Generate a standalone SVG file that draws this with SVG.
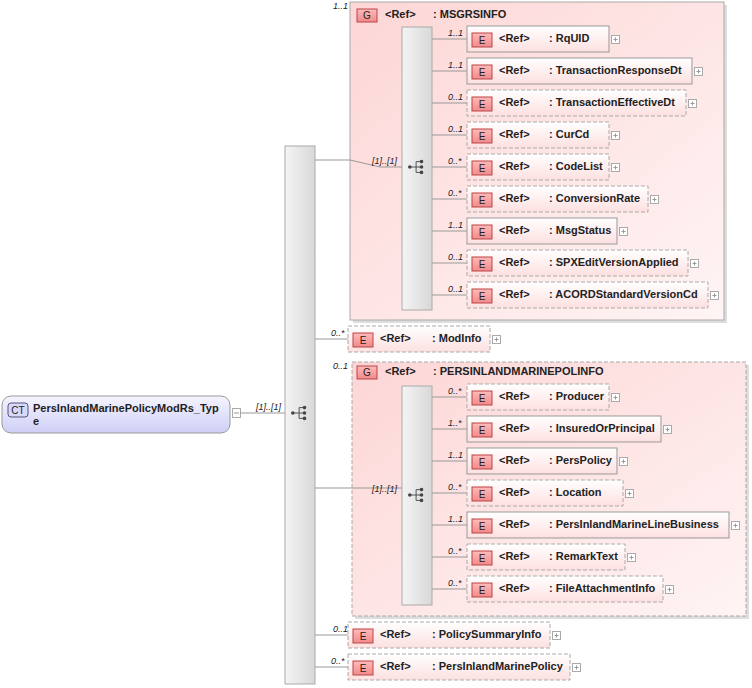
<svg xmlns="http://www.w3.org/2000/svg" width="752" height="688" viewBox="0 0 752 688">
<defs>
<linearGradient id="pk" x1="0" y1="0" x2="0" y2="1"><stop offset="0" stop-color="#fff"/><stop offset="1" stop-color="#fde0e0"/></linearGradient>
<linearGradient id="grp" x1="0" y1="0" x2="1" y2="1"><stop offset="0" stop-color="#fdd6d6"/><stop offset="1" stop-color="#fff4f4"/></linearGradient>
<linearGradient id="bar" x1="0" y1="0" x2="1" y2="0"><stop offset="0" stop-color="#f4f4f4"/><stop offset="1" stop-color="#d8d8d8"/></linearGradient>
<linearGradient id="ct" x1="0" y1="0" x2="0" y2="1"><stop offset="0" stop-color="#f4f4ff"/><stop offset="1" stop-color="#cfcff7"/></linearGradient>
<linearGradient id="ic" x1="0" y1="0" x2="0" y2="1"><stop offset="0" stop-color="#fbb"/><stop offset="1" stop-color="#f08a8a"/></linearGradient>
<symbol id="seq" viewBox="0 0 20 20" overflow="visible">
<circle cx="2" cy="10" r="2" fill="#444"/><path d="M2 10H9M9 4V16M9 4H14M9 10H14M9 16H14" stroke="#444" fill="none"/>
<circle cx="15" cy="4" r="2" fill="#444"/><circle cx="15" cy="10" r="2" fill="#444"/><circle cx="15" cy="16" r="2" fill="#444"/>
</symbol>
<symbol id="plus" viewBox="0 0 9 9" overflow="visible"><rect x="0.5" y="0.5" width="8" height="8" fill="#fff" stroke="#aaa"/><path d="M2.5 4.5H6.5M4.5 2.5V6.5" stroke="#999"/></symbol>
</defs>
<style>
text{font-family:"Liberation Sans",Arial,sans-serif;font-weight:bold;font-size:11px;fill:#222}
.m{font-style:italic;font-weight:normal;font-size:9px;fill:#222}
.en{fill:url(#pk);stroke:#999}
.d{stroke-dasharray:4,2;stroke:#aaa}
.ic{fill:url(#ic);stroke:#b44}
.it{font-weight:normal;fill:#222;text-anchor:middle;font-size:10px}
.bar{fill:url(#bar);stroke:#aaa}
.ln{stroke:#999;fill:none}
</style>

<g id="root">
<rect x="2" y="396" width="228" height="37" rx="9" fill="url(#ct)" stroke="#999"/>
<rect x="8" y="403" width="20" height="14" rx="3" fill="#d8d8fb" stroke="#557"/>
<text class="it" x="18" y="414">CT</text>
<text x="33" y="412">PersInlandMarinePolicyModRs_Typ</text>
<text x="33" y="425">e</text>
<rect x="232.5" y="408.5" width="8" height="9" fill="#fff" stroke="#aaa"/><path d="M234 413H239" stroke="#999"/>
</g>

<g id="seq-main"><rect class="bar" x="285" y="146" width="30" height="538"/><use href="#seq" x="291" y="404" width="18" height="18"/></g>

<g id="MSGRSINFO">
<rect x="353" y="5" width="374" height="318" fill="#ddd"/>
<rect x="350" y="2" width="374" height="318" fill="url(#grp)" stroke="#aaa"/>
<rect class="ic" x="357" y="9" width="20" height="13"/><text class="it" x="367" y="19">G</text>
<text x="385" y="18">&lt;Ref&gt;</text><text x="433" y="18">: MSGRSINFO</text>
<rect class="bar" x="402" y="27" width="30" height="283"/><use href="#seq" x="408" y="158" width="18" height="18"/>
</g>

<g id="PERSINLANDMARINEPOLINFO">
<rect x="355" y="365" width="394" height="254" fill="#ddd"/>
<rect x="352" y="362" width="394" height="254" fill="url(#grp)" class="d"/>
<rect class="ic" x="357" y="366" width="20" height="13"/><text class="it" x="367" y="376">G</text>
<text x="385" y="375">&lt;Ref&gt;</text><text x="433" y="375">: PERSINLANDMARINEPOLINFO</text>
<rect class="bar" x="402" y="386" width="30" height="219"/><use href="#seq" x="408" y="486" width="18" height="18"/>
</g>

<g id="RqUID"><rect class="en" x="467" y="26" width="142" height="26"/><rect class="ic" x="472" y="33" width="20" height="14"/><text class="it" x="482" y="44">E</text><text x="499" y="42">&lt;Ref&gt;</text><text x="549" y="42">: RqUID</text><use href="#plus" x="611" y="35" width="9" height="9"/></g>
<g id="TransactionResponseDt"><rect class="en" x="467" y="58" width="225" height="26"/><rect class="ic" x="472" y="65" width="20" height="14"/><text class="it" x="482" y="76">E</text><text x="499" y="74">&lt;Ref&gt;</text><text x="549" y="74">: TransactionResponseDt</text><use href="#plus" x="694" y="67" width="9" height="9"/></g>
<g id="TransactionEffectiveDt"><rect class="en d" x="467" y="90" width="219" height="26"/><rect class="ic" x="472" y="97" width="20" height="14"/><text class="it" x="482" y="108">E</text><text x="499" y="106">&lt;Ref&gt;</text><text x="549" y="106">: TransactionEffectiveDt</text><use href="#plus" x="688" y="99" width="9" height="9"/></g>
<g id="CurCd"><rect class="en d" x="467" y="122" width="142" height="26"/><rect class="ic" x="472" y="129" width="20" height="14"/><text class="it" x="482" y="140">E</text><text x="499" y="138">&lt;Ref&gt;</text><text x="549" y="138">: CurCd</text><use href="#plus" x="611" y="131" width="9" height="9"/></g>
<g id="CodeList"><rect class="en d" x="467" y="154" width="142" height="26"/><rect class="ic" x="472" y="161" width="20" height="14"/><text class="it" x="482" y="172">E</text><text x="499" y="170">&lt;Ref&gt;</text><text x="549" y="170">: CodeList</text><use href="#plus" x="611" y="163" width="9" height="9"/></g>
<g id="ConversionRate"><rect class="en d" x="467" y="186" width="181" height="26"/><rect class="ic" x="472" y="193" width="20" height="14"/><text class="it" x="482" y="204">E</text><text x="499" y="202">&lt;Ref&gt;</text><text x="549" y="202">: ConversionRate</text><use href="#plus" x="650" y="195" width="9" height="9"/></g>
<g id="MsgStatus"><rect class="en" x="467" y="218" width="150" height="26"/><rect class="ic" x="472" y="225" width="20" height="14"/><text class="it" x="482" y="236">E</text><text x="499" y="234">&lt;Ref&gt;</text><text x="549" y="234">: MsgStatus</text><use href="#plus" x="619" y="227" width="9" height="9"/></g>
<g id="SPXEditVersionApplied"><rect class="en d" x="467" y="250" width="221" height="26"/><rect class="ic" x="472" y="257" width="20" height="14"/><text class="it" x="482" y="268">E</text><text x="499" y="266">&lt;Ref&gt;</text><text x="549" y="266">: SPXEditVersionApplied</text><use href="#plus" x="690" y="259" width="9" height="9"/></g>
<g id="ACORDStandardVersionCd"><rect class="en d" x="467" y="282" width="241" height="26"/><rect class="ic" x="472" y="289" width="20" height="14"/><text class="it" x="482" y="300">E</text><text x="499" y="298">&lt;Ref&gt;</text><text x="549" y="298">: ACORDStandardVersionCd</text><use href="#plus" x="710" y="291" width="9" height="9"/></g>

<g id="ModInfo"><rect class="en d" x="348" y="326" width="142" height="26"/><rect class="ic" x="353" y="333" width="20" height="14"/><text class="it" x="363" y="344">E</text><text x="380" y="342">&lt;Ref&gt;</text><text x="432" y="342">: ModInfo</text><use href="#plus" x="492" y="335" width="9" height="9"/></g>

<g id="Producer"><rect class="en d" x="467" y="384" width="142" height="26"/><rect class="ic" x="472" y="391" width="20" height="14"/><text class="it" x="482" y="402">E</text><text x="499" y="400">&lt;Ref&gt;</text><text x="549" y="400">: Producer</text><use href="#plus" x="611" y="393" width="9" height="9"/></g>
<g id="InsuredOrPrincipal"><rect class="en" x="467" y="416" width="194" height="26"/><rect class="ic" x="472" y="423" width="20" height="14"/><text class="it" x="482" y="434">E</text><text x="499" y="432">&lt;Ref&gt;</text><text x="549" y="432">: InsuredOrPrincipal</text><use href="#plus" x="663" y="425" width="9" height="9"/></g>
<g id="PersPolicy"><rect class="en" x="467" y="448" width="150" height="26"/><rect class="ic" x="472" y="455" width="20" height="14"/><text class="it" x="482" y="466">E</text><text x="499" y="464">&lt;Ref&gt;</text><text x="549" y="464">: PersPolicy</text><use href="#plus" x="619" y="457" width="9" height="9"/></g>
<g id="Location"><rect class="en d" x="467" y="480" width="156" height="26"/><rect class="ic" x="472" y="487" width="20" height="14"/><text class="it" x="482" y="498">E</text><text x="499" y="496">&lt;Ref&gt;</text><text x="549" y="496">: Location</text><use href="#plus" x="625" y="489" width="9" height="9"/></g>
<g id="PersInlandMarineLineBusiness"><rect class="en" x="467" y="512" width="262" height="26"/><rect class="ic" x="472" y="519" width="20" height="14"/><text class="it" x="482" y="530">E</text><text x="499" y="528">&lt;Ref&gt;</text><text x="549" y="528">: PersInlandMarineLineBusiness</text><use href="#plus" x="731" y="521" width="9" height="9"/></g>
<g id="RemarkText"><rect class="en d" x="467" y="544" width="158" height="26"/><rect class="ic" x="472" y="551" width="20" height="14"/><text class="it" x="482" y="562">E</text><text x="499" y="560">&lt;Ref&gt;</text><text x="549" y="560">: RemarkText</text><use href="#plus" x="627" y="553" width="9" height="9"/></g>
<g id="FileAttachmentInfo"><rect class="en d" x="467" y="576" width="196" height="26"/><rect class="ic" x="472" y="583" width="20" height="14"/><text class="it" x="482" y="594">E</text><text x="499" y="592">&lt;Ref&gt;</text><text x="549" y="592">: FileAttachmentInfo</text><use href="#plus" x="665" y="585" width="9" height="9"/></g>

<g id="PolicySummaryInfo"><rect class="en d" x="348" y="622" width="202" height="26"/><rect class="ic" x="353" y="629" width="20" height="14"/><text class="it" x="363" y="640">E</text><text x="380" y="638">&lt;Ref&gt;</text><text x="432" y="638">: PolicySummaryInfo</text><use href="#plus" x="552" y="631" width="9" height="9"/></g>
<g id="PersInlandMarinePolicy"><rect class="en d" x="348" y="654" width="222" height="26"/><rect class="ic" x="353" y="661" width="20" height="14"/><text class="it" x="363" y="672">E</text><text x="380" y="670">&lt;Ref&gt;</text><text x="432" y="670">: PersInlandMarinePolicy</text><use href="#plus" x="572" y="663" width="9" height="9"/></g>

<g id="connectors">
<path class="ln" d="M240 413H285M315 160H350L380 167H402M315 339H348M315 488H402M315 635H348M315 667H348"/>
<path class="ln" d="M432 39H467M432 71H467M432 103H467M432 135H467M432 167H467M432 199H467M432 231H467M432 263H467M432 295H467"/>
<path class="ln" d="M432 397H467M432 429H467M432 461H467M432 493H467M432 525H467M432 557H467M432 589H467"/>
<text class="m" x="256" y="410">[1]..[1]</text>
<text class="m" x="333" y="9">1..1</text>
<text class="m" x="372" y="164">[1]..[1]</text>
<text class="m" x="331" y="336">0..*</text>
<text class="m" x="333" y="369">0..1</text>
<text class="m" x="372" y="492">[1]..[1]</text>
<text class="m" x="333" y="632">0..1</text>
<text class="m" x="331" y="664">0..*</text>
<text class="m" x="448" y="36">1..1</text><text class="m" x="448" y="68">1..1</text><text class="m" x="448" y="100">0..1</text><text class="m" x="448" y="132">0..1</text><text class="m" x="448" y="164">0..*</text><text class="m" x="448" y="196">0..*</text><text class="m" x="448" y="228">1..1</text><text class="m" x="448" y="260">0..1</text><text class="m" x="448" y="292">0..1</text>
<text class="m" x="448" y="394">0..*</text><text class="m" x="448" y="426">1..*</text><text class="m" x="448" y="458">1..1</text><text class="m" x="448" y="490">0..*</text><text class="m" x="448" y="522">1..1</text><text class="m" x="448" y="554">0..*</text><text class="m" x="448" y="586">0..*</text>
</g>
</svg>
